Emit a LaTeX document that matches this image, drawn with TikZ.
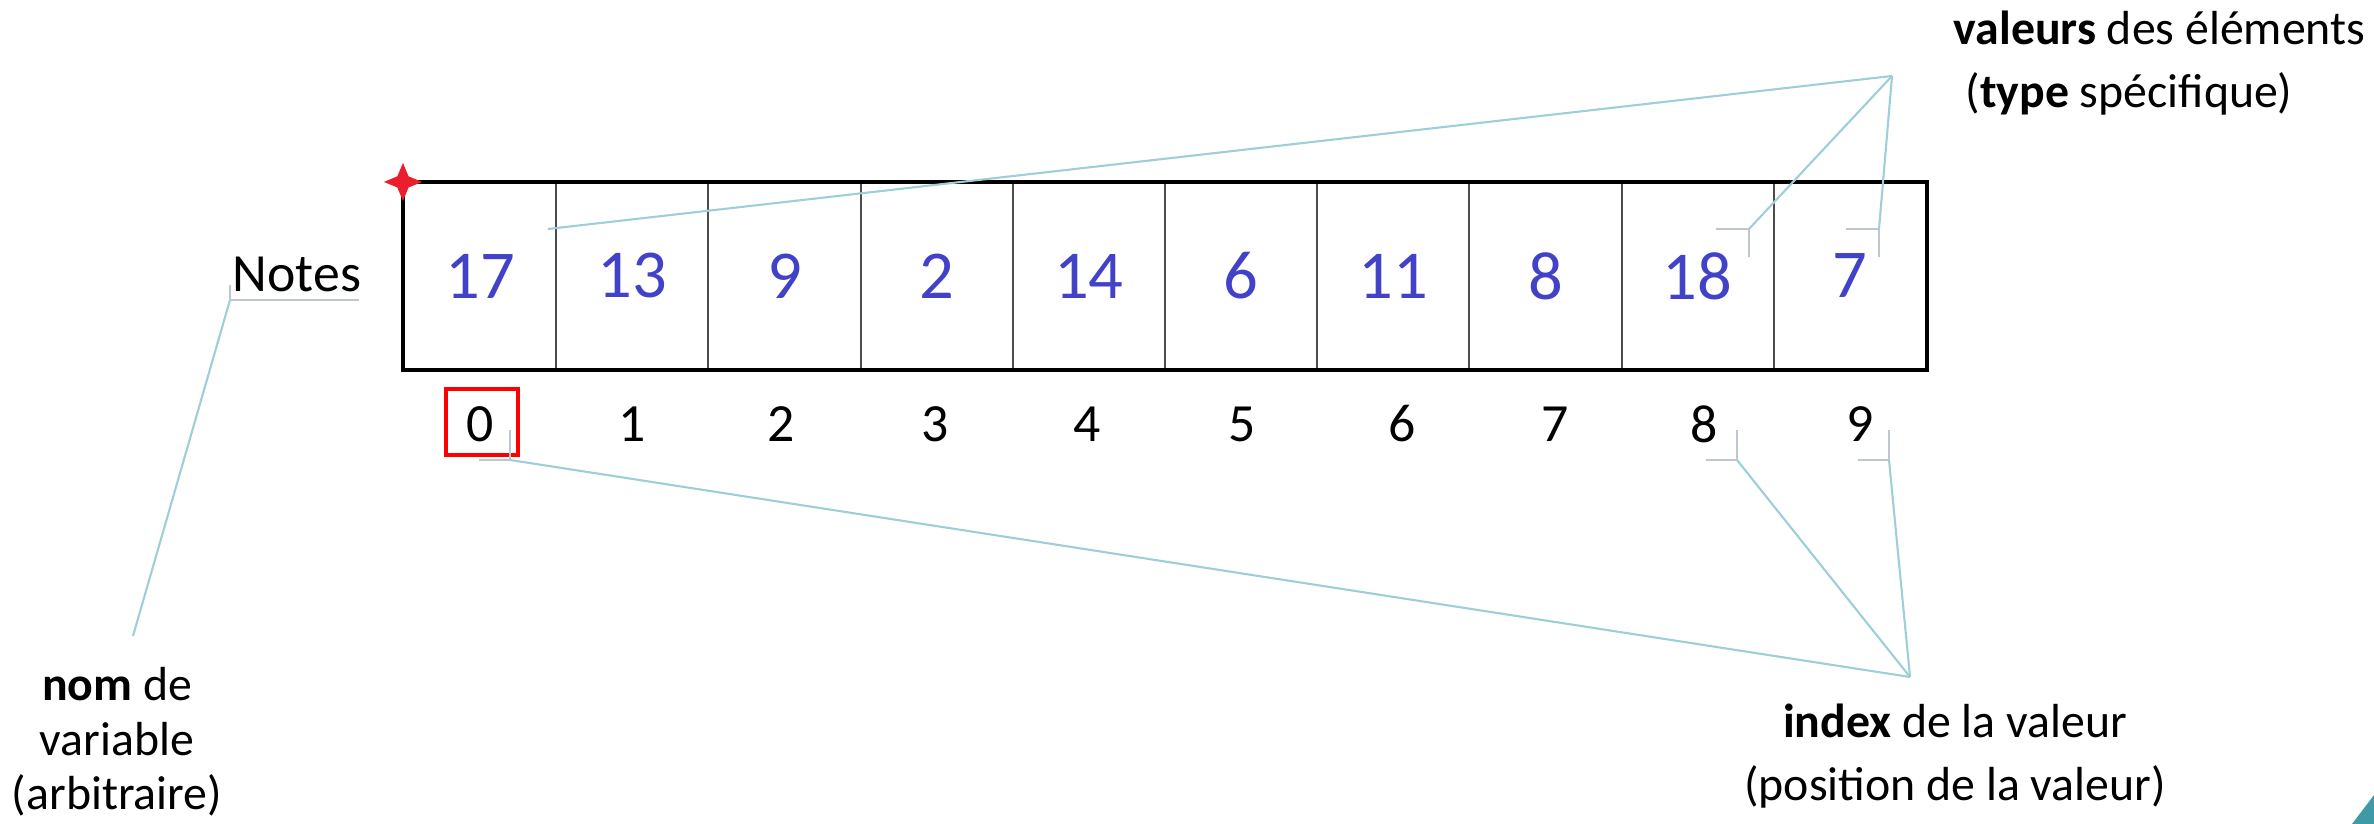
\documentclass[tikz,border=0pt]{standalone}
\usepackage{fontspec}
\setmainfont{Carlito}
\usetikzlibrary{shapes.geometric}
\definecolor{valblue}{RGB}{66,66,200}
\definecolor{leadcol}{RGB}{158,206,216}
\definecolor{tickcol}{RGB}{192,198,208}
\definecolor{cornerteal}{RGB}{62,155,165}
\definecolor{starred}{RGB}{235,30,45}

\begin{document}
\begin{tikzpicture}[
    cell/.style={draw=black!70, line width=0.6pt, minimum width=1.522cm, minimum height=1.86cm, inner sep=0pt, text=valblue, font=\fontsize{19.5}{22}\selectfont},
    idx/.style={inner sep=0pt, font=\fontsize{15.3}{18}\selectfont},
    legende/.style={inner sep=0pt, font=\fontsize{13.6}{15.5}\selectfont},
    leader/.style={draw=leadcol, line width=0.6pt},
    callout/.style={draw=tickcol, line width=0.6pt}
]
    \useasboundingbox (0,0) rectangle (23.74,8.24);

    % cases du tableau
    \foreach \v [count=\i from 0] in {17,13,9,2,14,6,11,8,18,7}
        \node[cell] (c\i) at (4.801+1.522*\i, 5.48) {\v};
    \draw[line width=1.3pt] (c0.north west) rectangle (c9.south east);
    \node[star, star points=4, star point ratio=2.4, fill=starred, inner sep=0pt, minimum size=0.38cm] (coin) at (c0.north west) {};

    % indices sous les cases
    \foreach \i/\dx in {0/0,1/0,2/-0.03,3/-0.015,4/-0.015,5/0.015,6/0.09,7/0.1,8/0.06,9/0.1}
        \node[idx] (i\i) at ([xshift=\dx cm, yshift=-0.54cm]c\i.south) {\i};
    \draw[red, line width=1.2pt] ([shift={(-0.34,-0.31)}]i0.center) rectangle ([shift={(0.38,0.35)}]i0.center);

    % nom du tableau
    \node[idx] (notes) at (2.97, 5.50) {Notes};

    % libellés
    \node[legende, align=center] (nom) at (1.17, 0.82) {\textbf{nom} de\\variable\\(arbitraire)};
    \node[legende, align=center, font=\fontsize{13.6}{17.7}\selectfont] (index) at (19.55, 0.68) {\textbf{index} de la valeur\\(position de la valeur)};
    \node[legende, anchor=base west] (val) at (19.53, 7.79) {\textbf{valeurs} des éléments};
    \node[legende, anchor=base west] (type) at (19.65, 7.16) {(\textbf{type} spécifique)};

    % points de rencontre des traits
    \coordinate (haut) at (18.92, 7.48);
    \coordinate (bas) at (19.1, 1.47);
    \coordinate (nomtip) at (1.33, 1.88);

    % traits vers les valeurs
    \coordinate (k17) at (5.48, 5.95);
    \coordinate (k18) at (17.49, 5.95);
    \coordinate (k7) at (18.79, 5.95);
    \foreach \k in {k18,k7}
        \draw[callout] ([xshift=-0.33cm]\k) -- (\k) -- ([yshift=-0.28cm]\k);
    \foreach \k in {k17,k18,k7}
        \draw[leader] (\k) -- (haut);

    % traits vers les indices
    \coordinate (k0) at (5.10, 3.64);
    \coordinate (k8) at (17.37, 3.64);
    \coordinate (k9) at (18.89, 3.64);
    \foreach \k in {k0,k8,k9} {
        \draw[callout] ([xshift=-0.31cm]\k) -- (\k) -- ([yshift=0.30cm]\k);
        \draw[leader] (\k) -- (bas);
    }

    % trait vers le nom
    \coordinate (kn) at (2.30, 5.24);
    \draw[callout] ([yshift=0.15cm]kn) -- (kn) -- ([xshift=1.29cm]kn);
    \draw[leader] (kn) -- (nomtip);

    \fill[cornerteal] (23.52,0) -- (23.74,0) -- (23.74,0.29) -- cycle;
\end{tikzpicture}
\end{document}
